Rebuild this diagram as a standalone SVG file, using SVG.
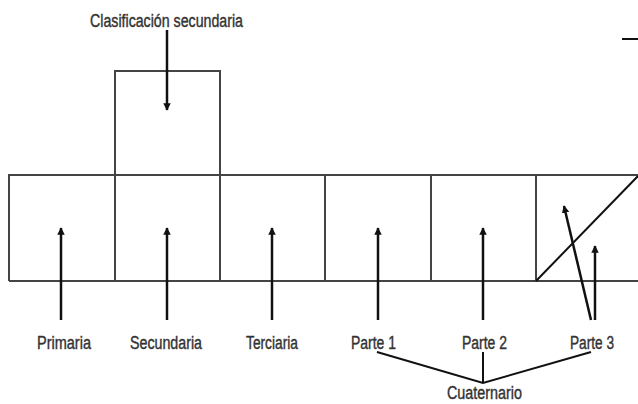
<svg xmlns="http://www.w3.org/2000/svg" width="638" height="404" viewBox="0 0 638 404">
<style>
.box{fill:none;stroke:#444;stroke-width:2}
.arr{stroke:#111;stroke-width:2.5;fill:none;marker-end:url(#ah)}
.ln{stroke:#111;stroke-width:2;fill:none}
text{font-family:"Liberation Sans",Arial,sans-serif;font-size:18px;fill:#333;stroke:#333;stroke-width:0.4px;text-anchor:middle}
</style>
<defs>
<marker id="ah" viewBox="0 0 10 10" refX="9" refY="5" markerWidth="3" markerHeight="3.5" orient="auto" markerUnits="strokeWidth">
<path d="M0,0 L10,5 L0,10 z" fill="#111"/>
</marker>
</defs>
<rect width="638" height="404" fill="#fff"/>
<g id="strip">
<path class="box" d="M9,281 L9,175 L638,175 M9,281 L638,281"/>
</g>
<g id="upper-box"><rect class="box" x="115" y="71" width="105" height="104"/></g>
<g id="cell-primaria"><path class="box" d="M115,175 V281"/></g>
<g id="cell-secundaria"><path class="box" d="M220,175 V281"/></g>
<g id="cell-terciaria"><path class="box" d="M325,175 V281"/></g>
<g id="cell-parte1"><path class="box" d="M431,175 V281"/></g>
<g id="cell-parte2"><path class="box" d="M536,175 V281"/></g>
<g id="cell-parte3"><path class="ln" d="M536,281 L638,176"/></g>
<g id="dash"><path class="ln" d="M622,39 H638" stroke-width="2.5"/></g>
<g id="labels">
<text x="166.5" y="27" textLength="153" lengthAdjust="spacingAndGlyphs">Clasificación secundaria</text>
<text x="64" y="349" textLength="54" lengthAdjust="spacingAndGlyphs">Primaria</text>
<text x="166" y="349" textLength="72" lengthAdjust="spacingAndGlyphs">Secundaria</text>
<text x="272" y="349" textLength="52" lengthAdjust="spacingAndGlyphs">Terciaria</text>
<text x="373.5" y="349" textLength="45" lengthAdjust="spacingAndGlyphs">Parte 1</text>
<text x="484.5" y="349" textLength="45" lengthAdjust="spacingAndGlyphs">Parte 2</text>
<text x="592" y="349" textLength="44" lengthAdjust="spacingAndGlyphs">Parte 3</text>
<text x="484.5" y="399" textLength="75" lengthAdjust="spacingAndGlyphs">Cuaternario</text>
</g>
<g id="connectors">
<path class="arr" d="M167,30 V110"/>
<path class="arr" d="M61,320 V228"/>
<path class="arr" d="M167,320 V228"/>
<path class="arr" d="M272,320 V228"/>
<path class="arr" d="M378,320 V228"/>
<path class="arr" d="M483,320 V228"/>
<path class="arr" d="M591,320 L564,206"/>
<path class="arr" d="M595,320 V246"/>
<path class="ln" d="M377,352 L483,383 L591,352 M483,352 V383"/>
</g>
</svg>
